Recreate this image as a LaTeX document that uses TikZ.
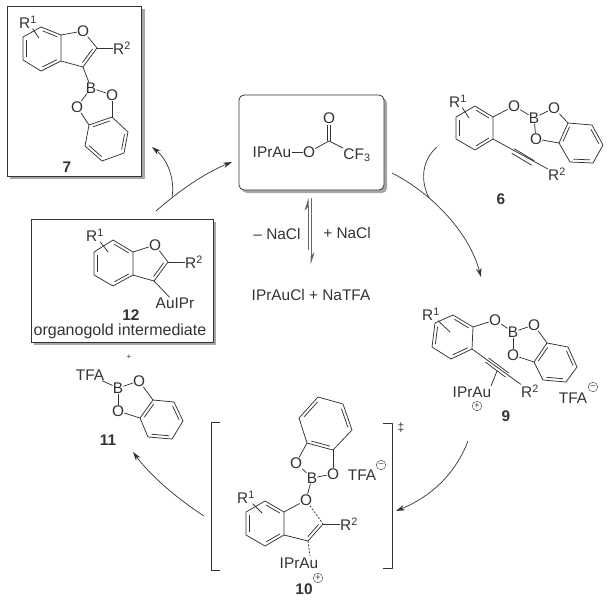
\documentclass[tikz,border=0pt]{standalone}
\usepackage{fontspec}
\setmainfont{Liberation Sans}
\usetikzlibrary{calc,arrows.meta}
\definecolor{ink}{gray}{0.2}
\tikzset{
  x=1pt,y=-1pt,
  every node/.style={text=ink,font=\fontsize{15.4}{17}\selectfont},
  bond/.style={draw=ink,line width=0.75pt,line join=round},
  dbond/.style={bond,dash pattern=on 2pt off 1.5pt},
  atom/.style={inner sep=0.3pt,outer sep=0pt},
  lab/.style={inner sep=0pt,font=\fontsize{15.4}{17}\selectfont\bfseries},
  chg/.style={circle,draw=ink,line width=0.4pt,minimum size=9.5pt,inner sep=0pt,font=\fontsize{9}{9}\selectfont},
  frame/.style={draw=ink,line width=0.8pt,fill=white},
  shade/.style={fill=black!35,draw=none},
  flow/.style={draw=ink,line width=0.7pt,-{Stealth[length=9pt,width=5.5pt]}},
  plainflow/.style={draw=ink,line width=0.7pt},
  eq/.style={draw=black!60,line width=1pt},
}
% inner line of a double bond; a->b runs clockwise round the ring
\newcommand\inn[2]{\draw[bond] ($(#1)!.14!(#2)!3pt!-90:(#2)$) -- ($(#2)!.14!(#1)!3pt!90:(#1)$);}
% hexagon with double bonds a-b, c-d, e-f
\newcommand\ring[7]{%
  \coordinate (#1a) at (#2); \coordinate (#1b) at (#3); \coordinate (#1c) at (#4);
  \coordinate (#1d) at (#5); \coordinate (#1e) at (#6); \coordinate (#1f) at (#7);
  \draw[bond] (#1a)--(#1b)--(#1c)--(#1d)--(#1e)--(#1f)--cycle;
  \inn{#1a}{#1b}\inn{#1c}{#1d}\inn{#1e}{#1f}}
% two outer lines of a triple bond
\newcommand\tripl[2]{%
  \draw[bond] ($(#1)!2.6pt!90:(#2)$) -- ($(#2)!2.6pt!-90:(#1)$);
  \draw[bond] ($(#1)!2.6pt!-90:(#2)$) -- ($(#2)!2.6pt!90:(#1)$);}
\begin{document}
\begin{tikzpicture}
\useasboundingbox (0,0) rectangle (610,600);

% ---------- boxes
\fill[shade] (10,9) rectangle (145,179);
\draw[frame] (7,6) rectangle (141,176);
\fill[shade] (34,222) rectangle (216,345);
\draw[frame] (31,219) rectangle (213,342);
\fill[shade,rounded corners=5pt] (242,98) rectangle (387,193);
\draw[frame,rounded corners=5pt] (239,95) rectangle (384,190);

% ---------- compound 7
\begin{scope}[name prefix=m7-]
\ring{r}{41,27}{61,35}{61,61}{41,71}{23,60}{23,37}
\ring{s}{89,125}{112,117}{128,132}{124,153}{102,161}{85,146}
\node[atom] (o) at (83,31) {O};
\coordinate (c2) at (97,48);
\coordinate (c3) at (83,67);
\node[atom] (r2) at (122,48) {R\textsuperscript{2}};
\node[atom] (r1) at (28,22) {R\textsuperscript{1}};
\coordinate (r1e) at (39,38);
\node[atom] (b) at (91,88) {B};
\node[atom] (o1) at (112,95) {O};
\node[atom] (o2) at (77,107) {O};
\node[lab] (n) at (67,167) {7};
\foreach \p/\q in {rb/o,o/c2,c2/c3,c3/rc,c2/r2,r1/r1e,c3/b,b/o1,b/o2,o1/sb,o2/sa}
  \draw[bond] (\p)--(\q);
\inn{c2}{c3}
\end{scope}

% ---------- compound 6
\begin{scope}[name prefix=m6-]
\ring{r}{475,106}{493,117}{493,139}{475,150}{456,139}{456,117}
\ring{s}{559,143}{568,123}{592,125}{603,145}{593,163}{570,162}
\node[atom] (r1) at (458,101) {R\textsuperscript{1}};
\coordinate (r1e) at (469,118);
\node[atom] (o) at (514,106) {O};
\node[atom] (b) at (534,118) {B};
\node[atom] (o1) at (554,108) {O};
\node[atom] (o2) at (536,139) {O};
\node[atom] (r2) at (557,174) {R\textsuperscript{2}};
\coordinate (t1) at (513,151);
\coordinate (t2) at (533,163);
\node[lab] (n) at (501,199) {6};
\foreach \p/\q in {rb/o,o/b,b/o1,b/o2,o1/sb,o2/sa,r1/r1e,rc/r2}
  \draw[bond] (\p)--(\q);
\tripl{t1}{t2}
\end{scope}

% ---------- compound 9
\begin{scope}[name prefix=m9-]
\ring{r}{453,315}{473,327}{472,349}{451,359}{432,347}{435,323}
\ring{s}{534,362}{547,343}{568,347}{577,367}{566,382}{543,380}
\node[atom] (r1) at (431,314) {R\textsuperscript{1}};
\coordinate (r1e) at (450,332);
\node[atom] (o) at (495,320) {O};
\node[atom] (b) at (513,332) {B};
\node[atom] (o1) at (534,325) {O};
\node[atom] (o2) at (513,355) {O};
\node[atom] (r2) at (530,391) {R\textsuperscript{2}};
\node[atom] (au) at (472,392) {IPrAu};
\coordinate (t1) at (487,360);
\coordinate (t2) at (507,375);
\coordinate (m) at (497,371);
\coordinate (e) at (491,386);
\node[chg] (plus) at (477,406) {+};
\node[atom] (tfa) at (573,398) {TFA};
\node[chg] (minus) at (593,387) {–};
\node[lab] (n) at (506,416) {9};
\foreach \p/\q in {rb/o,o/b,b/o1,b/o2,o1/sb,o2/sa,r1/r1e,rc/r2,m/e}
  \draw[bond] (\p)--(\q);
\tripl{t1}{t2}
\end{scope}

% ---------- compound 10
\begin{scope}[name prefix=m10-]
\ring{s}{299,418}{318,397}{343,404}{352,430}{333,450}{307,443}
\ring{r}{265,501}{284,512}{284,535}{265,546}{246,535}{246,512}
\node[atom] (o1) at (296,463) {O};
\node[atom] (o2) at (333,474) {O};
\node[atom] (b) at (312,478) {B};
\node[atom] (o) at (306,500) {O};
\coordinate (c2) at (323,524);
\coordinate (c3) at (308,541);
\node[atom] (r2) at (349,524) {R\textsuperscript{2}};
\node[atom] (r1) at (246,497) {R\textsuperscript{1}};
\coordinate (r1e) at (262,513);
\node[atom] (au) at (299,563) {IPrAu};
\coordinate (aue) at (310,556);
\node[lab] (n) at (304,589) {10};
\node[chg] (plus) at (318,578) {+};
\node[atom] (tfa) at (362,475) {TFA};
\node[chg] (minus) at (381,465) {–};
\coordinate (bl1) at (220,422);\coordinate (bl2) at (211,422);
\coordinate (bl3) at (211,570);\coordinate (bl4) at (220,570);
\coordinate (br1) at (383,423);\coordinate (br2) at (392,423);
\coordinate (br3) at (392,568);\coordinate (br4) at (383,568);
\node[atom] (dg) at (401,428) {\fontsize{12}{12}\selectfont ‡};
\foreach \p/\q in {sf/o1,se/o2,o1/b,o2/b,b/o,o/rb,rc/c3,c3/c2,c2/r2,r1/r1e}
  \draw[bond] (\p)--(\q);
\inn{c2}{c3}
\draw[dbond] (o)--(c2);
\draw[dbond] (c3)--(aue);
\draw[bond] (bl1)--(bl2)--(bl3)--(bl4);
\draw[bond] (br1)--(br2)--(br3)--(br4);
\end{scope}

% ---------- compound 12
\begin{scope}[name prefix=m12-]
\ring{r}{113,240}{133,252}{133,275}{113,286}{94,275}{94,252}
\node[atom] (o) at (155,245) {O};
\coordinate (c2) at (168,262);
\coordinate (c3) at (154,281);
\node[atom] (r2) at (194,262) {R\textsuperscript{2}};
\node[atom] (r1) at (95,235) {R\textsuperscript{1}};
\coordinate (r1e) at (108,252);
\node[atom] (au) at (175,303) {AuIPr};
\node[lab] (n) at (131,315) {12};
\node[atom,font=\fontsize{16}{18}\selectfont] (cap) at (120,331) {organogold intermediate};
\node[atom,font=\fontsize{8}{8}\selectfont] (plus) at (129,357) {+};
\foreach \p/\q in {rb/o,o/c2,c2/c3,c3/rc,c2/r2,r1/r1e,c3/au}
  \draw[bond] (\p)--(\q);
\inn{c2}{c3}
\end{scope}

% ---------- compound 11
\begin{scope}[name prefix=m11-]
\ring{s}{140,418}{153,400}{174,402}{183,421}{172,439}{148,437}
\node[atom] (tfa) at (90,375) {TFA};
\node[atom] (b) at (118,388) {B};
\node[atom] (o1) at (139,381) {O};
\node[atom] (o2) at (118,411) {O};
\node[lab] (n) at (108,440) {11};
\foreach \p/\q in {tfa/b,b/o1,b/o2,o1/sb,o2/sa}
  \draw[bond] (\p)--(\q);
\end{scope}

% ---------- catalyst
\begin{scope}[name prefix=cat-]
\node[atom] (au) at (272,152) {IPrAu};
\node[atom] (o) at (309,152) {O};
\coordinate (c) at (329,141);
\node[atom] (ot) at (329,118) {O};
\coordinate (ote) at (329,125);
\node[atom] (cf) at (357,155) {CF\textsubscript{3}};
\draw[bond] (au)--(o);
\draw[bond] (o)--(c);
\draw[bond] (c)--(cf);
\draw[bond] ($(c)!1.5pt!90:(ote)$) -- ($(ote)!1.5pt!-90:(c)$);
\draw[bond] ($(c)!1.5pt!-90:(ote)$) -- ($(ote)!1.5pt!90:(c)$);
\end{scope}

% ---------- equilibrium
\coordinate (equa) at (308,250);
\coordinate (equb) at (308,198);
\coordinate (eqda) at (311,198);
\coordinate (eqdb) at (311,265);
\draw[eq,-{Stealth[harpoon,length=11pt,width=7pt,fill=ink]}] (equa)--(equb);
\draw[eq,-{Stealth[harpoon,length=11pt,width=7pt,fill=ink]}] (eqda)--(eqdb);
\node[atom] (lminus) at (277,234) {– NaCl};
\node[atom] (lplus) at (347,233) {+ NaCl};
\node[atom] (lprod) at (311,295) {IPrAuCl + NaTFA};

% ---------- cycle arrows
\coordinate (a1s) at (392,173);
\coordinate (a1e) at (481,277);
\draw[flow] (a1s) .. controls (435,195) and (470,235) .. (a1e);
\coordinate (a2s) at (437,147);
\coordinate (a2e) at (429,198);
\draw[plainflow] (a2s) .. controls (422,160) and (420,180) .. (a2e);
\coordinate (a3s) at (468,441);
\coordinate (a3e) at (396,511);
\draw[flow] (a3s) .. controls (455,475) and (430,497) .. (a3e);
\coordinate (a4s) at (204,516);
\coordinate (a4e) at (133,452);
\draw[flow] (a4s) .. controls (175,497) and (150,475) .. (a4e);
\coordinate (a5s) at (156,211);
\coordinate (a5e) at (232,162);
\draw[flow] (a5s) .. controls (180,190) and (205,173) .. (a5e);
\coordinate (a6s) at (172,197);
\coordinate (a6e) at (152,147);
\draw[flow] (a6s) .. controls (175,180) and (168,160) .. (a6e);
\end{tikzpicture}
\end{document}
